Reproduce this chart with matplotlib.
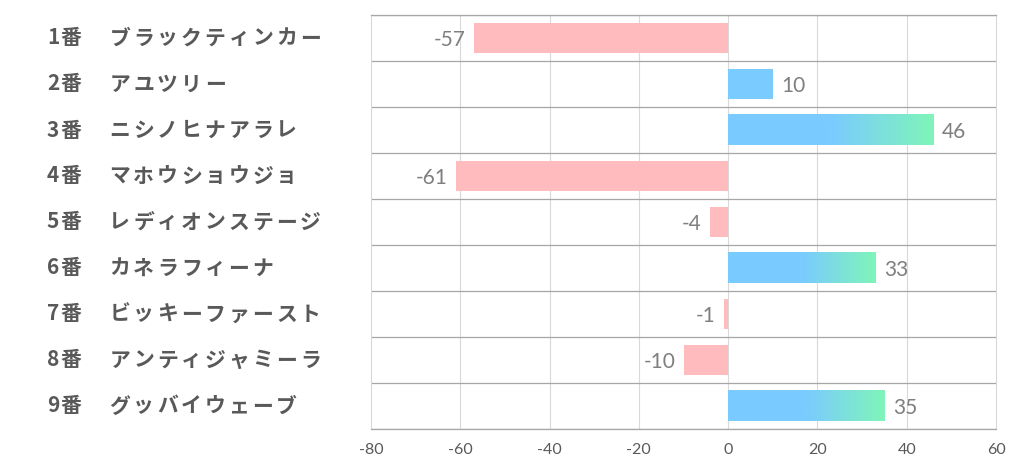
import matplotlib
matplotlib.use("Agg", force=True)
import matplotlib.pyplot as plt
import numpy as np
from matplotlib.colors import LinearSegmentedColormap

numbers = ["1番", "2番", "3番", "4番", "5番", "6番", "7番", "8番", "9番"]
names = [
    "ブラックティンカー",
    "アユツリー",
    "ニシノヒナアラレ",
    "マホウショウジョ",
    "レディオンステージ",
    "カネラフィーナ",
    "ビッキーファースト",
    "アンティジャミーラ",
    "グッバイウェーブ",
]
values = [-57, 10, 46, -61, -4, 33, -1, -10, 35]
x_ticks = [-80, -60, -40, -20, 0, 20, 40, 60]

BLUE = "#7acbff"
GREEN = "#7ff5b9"
PINK = "#ffbbbd"
LABEL_GRAY = "#595959"
VALUE_GRAY = "#7f7f7f"
JP_FONT = ["Noto Sans CJK JP", "DejaVu Sans"]
NUM_FONT = ["Lato", "DejaVu Sans"]

W, H = 1022, 470
fig = plt.figure(figsize=(W / 100, H / 100), dpi=100)
ax = fig.add_axes([371 / W, 41 / H, 625 / W, 414 / H])

n = len(values)
bar_h = 0.66
grad = LinearSegmentedColormap.from_list("bg", [(0.0, BLUE), (0.5, BLUE), (1.0, GREEN)])
grad_img = np.linspace(0, 1, 256).reshape(1, -1)

for i, v in enumerate(values):
    if v < 0:
        ax.barh(i, v, height=bar_h, color=PINK, zorder=2)
        ax.annotate(str(v), (v, i), xytext=(-6, -1.5), textcoords="offset points",
                    ha="right", va="center", fontsize=15, color=VALUE_GRAY,
                    family=NUM_FONT)
    else:
        if v > 15:
            ax.imshow(grad_img, cmap=grad, aspect="auto", interpolation="bicubic",
                      extent=[0, v, i + bar_h / 2, i - bar_h / 2], zorder=2)
        else:
            ax.barh(i, v, height=bar_h, color=BLUE, zorder=2)
        ax.annotate(str(v), (v, i), xytext=(6, -1.5), textcoords="offset points",
                    ha="left", va="center", fontsize=15, color=VALUE_GRAY,
                    family=NUM_FONT)

ax.set_xlim(x_ticks[0], x_ticks[-1])
ax.set_ylim(n - 0.5, -0.5)
ax.set_xticks(x_ticks)
ax.set_xticklabels([str(t) for t in x_ticks], fontsize=11.5, color="#595959",
                   family=NUM_FONT)
ax.tick_params(axis="x", length=0, pad=10)
ax.set_yticks([])

for t in x_ticks[1:-1]:
    ax.axvline(t, color="#d9d9d9", linewidth=0.8, zorder=1)
for k in range(n + 1):
    ax.axhline(k - 0.5, color="#a6a6a6", linewidth=0.9, zorder=1)

for side in ["left", "right"]:
    ax.spines[side].set_color("#d9d9d9")
    ax.spines[side].set_linewidth(0.8)
for side in ["top", "bottom"]:
    ax.spines[side].set_color("#a6a6a6")
    ax.spines[side].set_linewidth(0.9)


def put_spaced(x_px, y_px, s):
    # monospaced-like layout: half-width chars 12px, full-width 24px
    for ch in s:
        step = 12 if ord(ch) < 0x2000 else 23.8
        fig.text((x_px + step / 2) / W, 1 - y_px / H, ch, ha="center", va="center",
                 fontsize=15, fontweight="bold", color=LABEL_GRAY, family=JP_FONT)
        x_px += step


for i, (num, name) in enumerate(zip(numbers, names)):
    y_px = 15 + 46 * i + 23
    put_spaced(47, y_px, num)
    put_spaced(108, y_px, name)

fig.savefig("out.png", dpi=100)
plt.close(fig)
